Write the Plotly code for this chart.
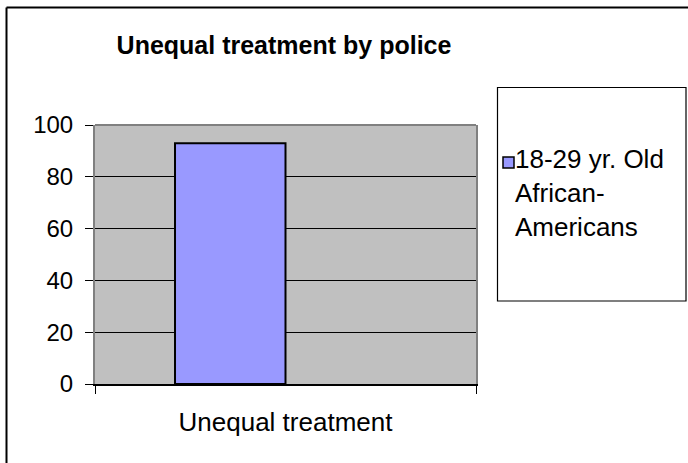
import plotly.graph_objects as go

categories = ["Unequal treatment"]
series_name = "18-29 yr. Old African-Americans"
legend_lines = ["18-29 yr. Old", "African-", "Americans"]
values = [93]
y_ticks = [0, 20, 40, 60, 80, 100]

W, H = 688, 463
L, R, T, B = 95, 212, 125, 79
PW, PH = W - L - R, H - T - B

def px(x):
    return (x - L) / PW

def py(y):
    return (H - B - y) / PH

FONT = "Liberation Sans, Arial, sans-serif"

fig = go.Figure()
fig.add_trace(go.Bar(
    x=categories, y=values, name=series_name,
    marker=dict(color="#9999FF", line=dict(color="black", width=2)),
    width=0.29, offset=-0.29, showlegend=False,
))

shapes = [
    # top border of plot area
    dict(type="line", xref="paper", yref="paper", x0=0, x1=1, y0=1, y1=1,
         line=dict(color="#808080", width=2)),
    # outer chart border (left and top visible)
    dict(type="line", xref="paper", yref="paper", x0=px(6.5), x1=px(6.5), y0=py(7.5), y1=py(480),
         line=dict(color="black", width=2)),
    dict(type="line", xref="paper", yref="paper", x0=px(6.5), x1=px(700), y0=py(7.5), y1=py(7.5),
         line=dict(color="black", width=2)),
    # legend box
    dict(type="rect", xref="paper", yref="paper", x0=px(497.5), x1=px(686), y0=py(87.5), y1=py(301),
         line=dict(color="black", width=1.2), fillcolor="white", layer="below"),
    # legend swatch
    dict(type="rect", xref="paper", yref="paper", x0=px(503), x1=px(514), y0=py(157), y1=py(168),
         line=dict(color="black", width=1.5), fillcolor="#9999FF"),
]

annotations = [dict(
    text="<br>".join(legend_lines), xref="paper", yref="paper", x=px(513), y=py(193),
    xanchor="left", yanchor="middle", align="left", showarrow=False,
    font=dict(family=FONT, size=26, color="black"),
)]

fig.update_layout(
    width=W, height=H,
    margin=dict(l=L, r=R, t=T, b=B, pad=0),
    paper_bgcolor="white", plot_bgcolor="#C0C0C0",
    title=dict(text="<b>Unequal treatment by police</b>", x=284 / W, xanchor="center",
               y=1 - 45 / H, yanchor="middle", yref="container",
               font=dict(family=FONT, size=25, color="black")),
    showlegend=False,
    shapes=shapes, annotations=annotations,
    xaxis=dict(type="category", range=[-0.5, 0.5], showline=True, linecolor="black", linewidth=1.5,
               ticks="outside", tickson="boundaries", ticklen=8, tickcolor="black", tickwidth=1,
               showgrid=False, ticklabelstandoff=14,
               tickfont=dict(family=FONT, size=26, color="black")),
    yaxis=dict(range=[0, 100], tickvals=y_ticks, showline=True, linecolor="#808080", linewidth=2,
               mirror=True, ticks="outside", ticklen=8, tickcolor="black", tickwidth=1,
               showgrid=True, gridcolor="black", gridwidth=1, zeroline=False,
               ticklabelstandoff=7,
               tickfont=dict(family=FONT, size=24, color="black")),
)

fig.write_html("out.html")
